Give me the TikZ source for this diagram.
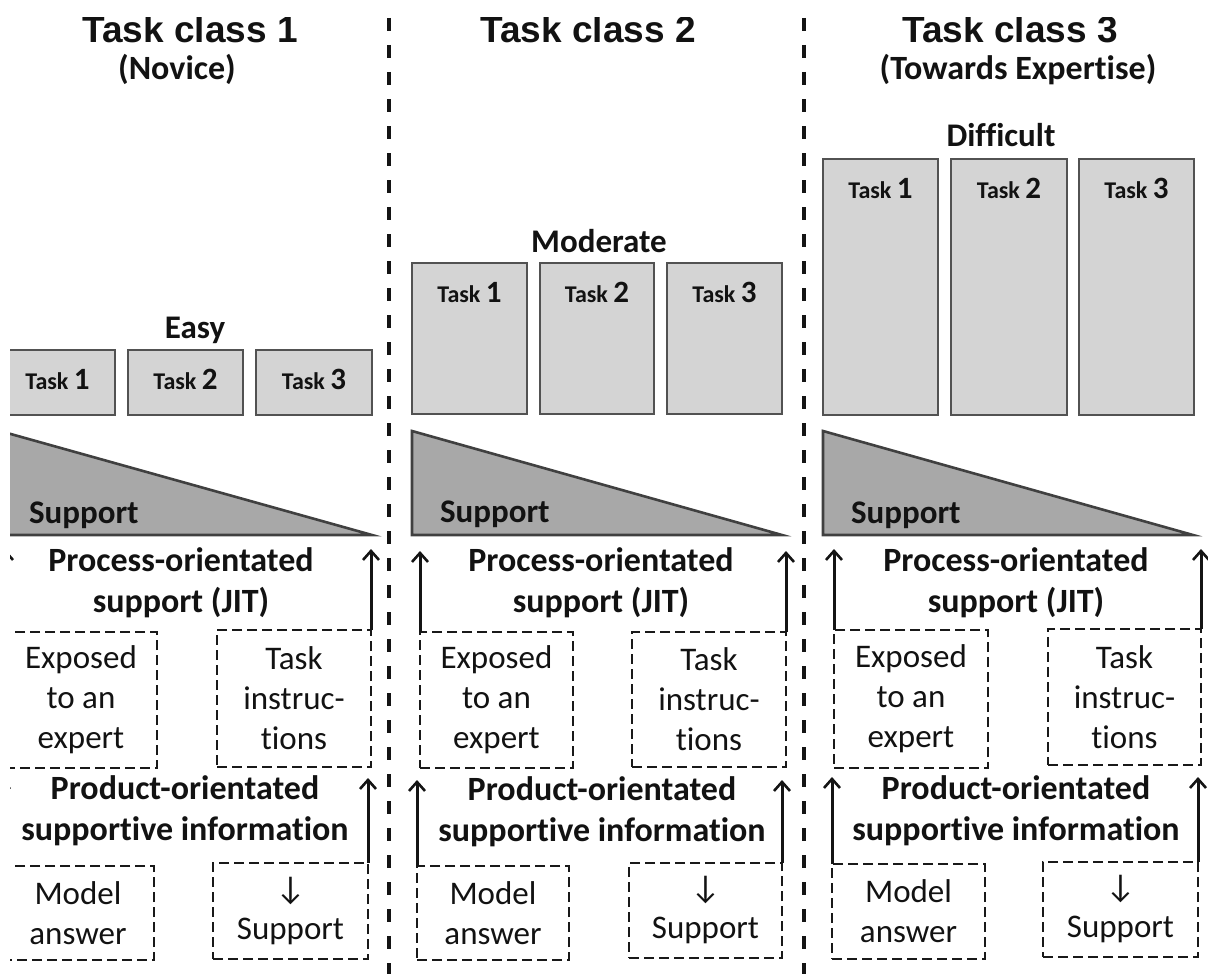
\documentclass[tikz,border=0pt]{standalone}
\usepackage{fontspec}
\setmainfont{Carlito}[Ligatures=NoCommon]
\newfontfamily\headfont{Liberation Sans}
\usetikzlibrary{arrows.meta}

\newcommand\fsz[2]{\fontsize{#1}{#2}\selectfont}
\newcommand\tnum[1]{\fsz{31}{31}#1}

\tikzset{
  every node/.style={inner sep=0pt, outer sep=0pt, text=black!93},
  headtxt/.style={font=\headfont\bfseries\fsz{37}{40}, anchor=base},
  subtxt/.style={font=\bfseries\fsz{34}{40}, anchor=base},
  leveltxt/.style={font=\bfseries\fsz{33}{40}, anchor=base},
  taskbox/.style={draw=black!68, fill=black!17, line width=2.6pt},
  tasklbl/.style={font=\bfseries\fsz{24}{26}, anchor=base},
  wedge/.style={draw=black!75, fill=black!34, line width=2.6pt, line join=miter},
  wedgelbl/.style={font=\bfseries\fsz{33}{36}, anchor=base west},
  % multi-line headings: the base anchor sits on the last line
  heading/.style={font=\bfseries\fsz{34}{41}, align=center, anchor=base},
  dbox/.style={draw=black!90, dash pattern=on 10pt off 5pt, line width=2.2pt,
               font=\fsz{33}{40}, align=center},
  uparrow/.style={-{Straight Barb[length=9pt,width=16pt,line width=2.6pt]},
                  line width=3pt, draw=black!92},
  divider/.style={line width=3.4pt, dash pattern=on 13pt off 14pt, draw=black!92},
}

\begin{document}
\begin{tikzpicture}[x=1pt, y=-1pt]
\useasboundingbox (0,0) rectangle (1208,974);
\begin{scope}
\clip (10,18) rectangle (1208,974);

% column separators
\coordinate (d1t) at (389,18);  \coordinate (d1b) at (389,974);
\coordinate (d2t) at (804,18);  \coordinate (d2b) at (804,974);
\draw[divider] (d1t) -- (d1b);
\draw[divider] (d2t) -- (d2b);

% ---------------- class 1 ----------------
\node[headtxt] (h1) at (190,43) {Task class 1};
\node[subtxt]  (s1) at (177,80) {(Novice)};
\node[leveltxt] (l1) at (195,338) {Easy};
\node[taskbox, minimum width=115, minimum height=65] (c1t1) at (57.5,382.5) {};
\node[taskbox, minimum width=115, minimum height=65] (c1t2) at (185.5,382.5) {};
\node[taskbox, minimum width=116, minimum height=65] (c1t3) at (314,382.5) {};
\foreach \i in {1,2,3}
  \node[tasklbl] (c1t\i l) at ([yshift=-39pt]c1t\i.north) {Task \tnum{\i}};
\draw[wedge] (0,431) -- (0,535) -- (372,535) -- cycle;
\node[wedgelbl] (c1w) at (29,523) {Support};

\node[heading] (c1proc) at (181,612) {Process-orientated\\support (JIT)};
\node[dbox, minimum width=152, minimum height=136] (c1exp) at (81,700) {Exposed\\to an\\expert};
\node[dbox, minimum width=154, minimum height=137] (c1ins) at (294,698.5) {Task\\instruc-\\tions};
\coordinate (c1pa) at (0,549);
\draw[uparrow] (c1exp.north west) -- (c1exp.north west |- c1pa);
\draw[uparrow] (c1ins.north east) -- (c1ins.north east |- c1pa);

\node[heading] (c1prod) at (185,840) {Product-orientated\\supportive information};
\node[dbox, minimum width=152, minimum height=94] (c1mod) at (78,913) {Model\\answer};
\node[dbox, minimum width=155, minimum height=96] (c1sup) at (290.5,911) {↓\\Support};
\coordinate (c1pb) at (0,778);
\draw[uparrow] (c1mod.north west) -- (c1mod.north west |- c1pb);
\draw[uparrow] (c1sup.north east) -- (c1sup.north east |- c1pb);

% ---------------- class 2 ----------------
\node[headtxt] (h2) at (588,43) {Task class 2};
\node[leveltxt] (l2) at (599,252) {Moderate};
\node[taskbox, minimum width=115, minimum height=151] (c2t1) at (469.5,338.5) {};
\node[taskbox, minimum width=114, minimum height=151] (c2t2) at (597,338.5) {};
\node[taskbox, minimum width=115, minimum height=151] (c2t3) at (724.5,338.5) {};
\foreach \i in {1,2,3}
  \node[tasklbl] (c2t\i l) at ([yshift=-39pt]c2t\i.north) {Task \tnum{\i}};
\draw[wedge] (412,431) -- (412,535) -- (782,535) -- cycle;
\node[wedgelbl] (c2w) at (440,522) {Support};

\node[heading] (c2proc) at (601,612) {Process-orientated\\support (JIT)};
\node[dbox, minimum width=153, minimum height=136] (c2exp) at (496.5,700) {Exposed\\to an\\expert};
\node[dbox, minimum width=154, minimum height=135] (c2ins) at (709,699.5) {Task\\instruc-\\tions};
\coordinate (c2pa) at (0,551);
\draw[uparrow] (c2exp.north west) -- (c2exp.north west |- c2pa);
\draw[uparrow] (c2ins.north east) -- (c2ins.north east |- c2pa);

\node[heading] (c2prod) at (602,841) {Product-orientated\\supportive information};
\node[dbox, minimum width=152, minimum height=94] (c2mod) at (493,913) {Model\\answer};
\node[dbox, minimum width=153, minimum height=95] (c2sup) at (705.5,910.5) {↓\\Support};
\coordinate (c2pb) at (0,780);
\draw[uparrow] (c2mod.north west) -- (c2mod.north west |- c2pb);
\draw[uparrow] (c2sup.north east) -- (c2sup.north east |- c2pb);

% ---------------- class 3 ----------------
\node[headtxt] (h3) at (1010,43) {Task class 3};
\node[subtxt]  (s3) at (1018,80) {(Towards Expertise)};
\node[leveltxt] (l3) at (1001,146) {Difficult};
\node[taskbox, minimum width=115, minimum height=256] (c3t1) at (880.5,287) {};
\node[taskbox, minimum width=116, minimum height=256] (c3t2) at (1009,287) {};
\node[taskbox, minimum width=115, minimum height=256] (c3t3) at (1136.5,287) {};
\foreach \i in {1,2,3}
  \node[tasklbl] (c3t\i l) at ([yshift=-39pt]c3t\i.north) {Task \tnum{\i}};
\draw[wedge] (823,431) -- (823,535) -- (1193,535) -- cycle;
\node[wedgelbl] (c3w) at (851,523) {Support};

\node[heading] (c3proc) at (1016,612) {Process-orientated\\support (JIT)};
\node[dbox, minimum width=154, minimum height=138] (c3exp) at (911,699) {Exposed\\to an\\expert};
\node[dbox, minimum width=153, minimum height=136] (c3ins) at (1124.5,697) {Task\\instruc-\\tions};
\coordinate (c3pa) at (0,549);
\draw[uparrow] (c3exp.north west) -- (c3exp.north west |- c3pa);
\draw[uparrow] (c3ins.north east) -- (c3ins.north east |- c3pa);

\node[heading] (c3prod) at (1016,840) {Product-orientated\\supportive information};
\node[dbox, minimum width=153, minimum height=95] (c3mod) at (908.5,911.5) {Model\\answer};
\node[dbox, minimum width=155, minimum height=95] (c3sup) at (1120.5,909.5) {↓\\Support};
\coordinate (c3pb) at (0,777);
\draw[uparrow] (c3mod.north west) -- (c3mod.north west |- c3pb);
\draw[uparrow] (c3sup.north east) -- (c3sup.north east |- c3pb);
\end{scope}
\end{tikzpicture}
\end{document}
